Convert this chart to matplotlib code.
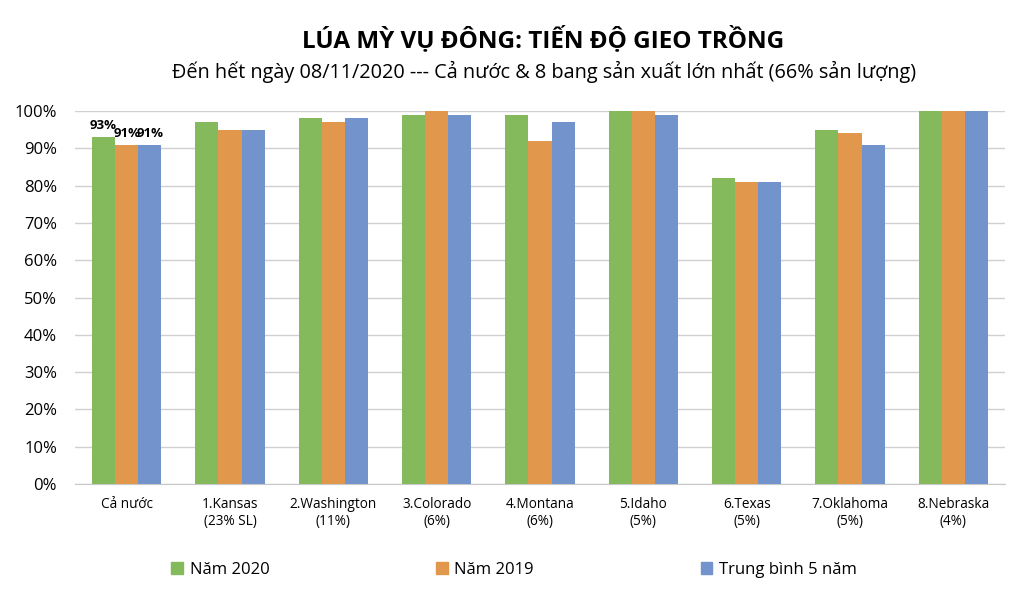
import matplotlib
matplotlib.use("Agg")
import matplotlib.pyplot as plt
import numpy as np
from matplotlib.patches import Patch

categories = ["Cả nước", "1.Kansas\n(23% SL)", "2.Washington\n(11%)", "3.Colorado\n(6%)",
              "4.Montana\n(6%)", "5.Idaho\n(5%)", "6.Texas\n(5%)", "7.Oklahoma\n(5%)", "8.Nebraska\n(4%)"]
nam_2020 = [93, 97, 98, 99, 99, 100, 82, 95, 100]
nam_2019 = [91, 95, 97, 100, 92, 100, 81, 94, 100]
tb_5nam = [91, 95, 98, 99, 97, 99, 81, 91, 100]
series_names = ["Năm 2020", "Năm 2019", "Trung bình 5 năm"]
colors = ["#84BA5B", "#E1974C", "#7293CB"]

plt.rcParams['font.family'] = ['Open Sans', 'DejaVu Sans']

fig = plt.figure(figsize=(10.24, 5.98), dpi=100)
ax = fig.add_axes([75/1024, 1-484/598, 930/1024, 373/598])

x = np.arange(len(categories))
w = 0.223
series = [nam_2020, nam_2019, tb_5nam]
for i, (vals, c) in enumerate(zip(series, colors)):
    ax.bar(x + (i-1)*w, vals, w, color=c, zorder=3, label=series_names[i])
    ax.text(x[0] + (i-1)*w, vals[0] + 1.3, f"{vals[0]}%", ha='center', va='bottom',
            fontsize=9.5, fontweight='bold', zorder=4)

ax.set_xlim(-0.5, len(categories)-0.5)
ax.set_ylim(0, 100)
ax.set_yticks(np.arange(0, 101, 10))
ax.set_yticklabels([f"{v}%" for v in range(0, 101, 10)], fontsize=12)
ax.set_xticks(x)
ax.set_xticklabels(categories, fontsize=9.8)
ax.tick_params(axis='both', length=0)
ax.tick_params(axis='x', pad=9)
ax.tick_params(axis='y', pad=13)
ax.yaxis.grid(True, color='#D0D0D0', linewidth=1, zorder=0)
for s in ['left', 'right', 'top']:
    ax.spines[s].set_visible(False)
ax.spines['bottom'].set_color('#C8C8C8')

fig.text(543/1024, 1-40/598, "LÚA MỲ VỤ ĐÔNG: TIẾN ĐỘ GIEO TRỒNG", ha='center', va='center',
         fontsize=17.5, fontweight='bold')
fig.text(544/1024, 1-72/598, "Đến hết ngày 08/11/2020 --- Cả nước & 8 bang sản xuất lớn nhất (66% sản lượng)",
         ha='center', va='center', fontsize=14.3)

handles = [Patch(color=c) for c in colors]
fig.legend(handles, series_names, loc='center', bbox_to_anchor=(514/1024, 1-570/598), ncol=3,
           frameon=False, fontsize=12, handlelength=0.7, handleheight=0.7, handletextpad=0.4,
           columnspacing=10.0)

fig.savefig("out.png", dpi=100)
